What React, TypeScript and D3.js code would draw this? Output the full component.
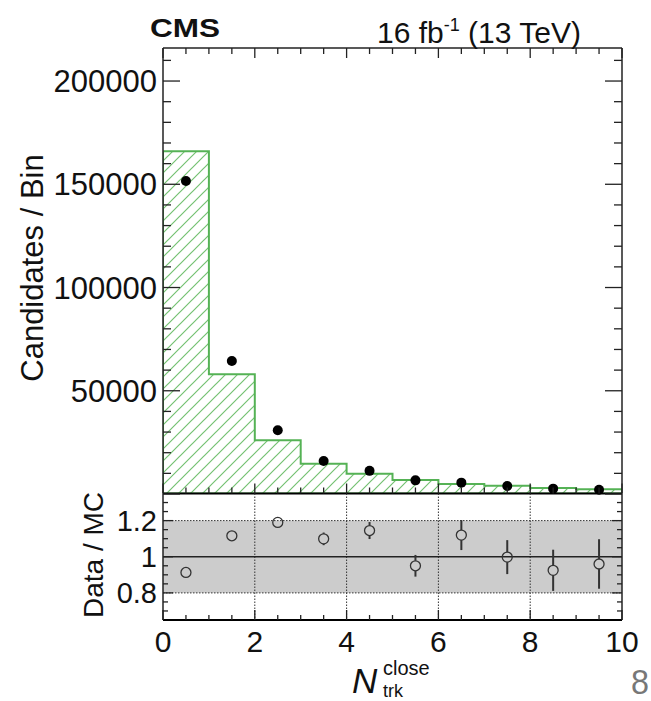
import React from 'react';
import * as d3 from 'd3';

const binLow = [0, 1, 2, 3, 4, 5, 6, 7, 8, 9];
const mcCounts = [166000, 58000, 26000, 14700, 9850, 6800, 4850, 4000, 2900, 2300];
const dataCounts = [151600, 64400, 30900, 16000, 11200, 6600, 5500, 3900, 2600, 2100];
const ratioValues = [0.913, 1.116, 1.19, 1.099, 1.145, 0.95, 1.12, 0.998, 0.925, 0.96];
const ratioErrors = [0.005, 0.007, 0.01, 0.035, 0.047, 0.06, 0.083, 0.094, 0.114, 0.137];
const yTickValues = [50000, 100000, 150000, 200000];
const ratioTickValues = [0.8, 1, 1.2];
const ratioTickLabels = ['0.8', '1', '1.2'];
const xTickValues = [0, 2, 4, 6, 8, 10];
const xGridValues = [2, 4, 6, 8];

export default function App() {
  const W = 651, H = 701;
  const left = 163, right = 622, top = 48, mid = 493.5, bot = 620;
  const x = d3.scaleLinear().domain([0, 10]).range([left, right]);
  const y = d3.scaleLinear().domain([0, 216000]).range([494, top]);
  const yr = d3.scaleLinear().domain([0.65, 1.35]).range([bot, mid]);
  const font = "'Liberation Sans', Arial, Helvetica, sans-serif";
  const green = '#55b255';
  const hatchGreen = '#74c172';

  let hist = `M${x(0)},${mid}`;
  mcCounts.forEach((v, i) => {
    hist += ` V${y(v)} H${x(binLow[i] + 1)}`;
  });
  hist += ` V${mid} Z`;

  const yMinor = d3.range(0, 215001, 10000);
  const xMinor = d3.range(0, 10.001, 0.5);
  const rMinor = d3.range(0.7, 1.3001, 0.05);
  const frame = '#222';
  const hs = 12;
  const r = 5;

  return (
    <svg width={W} height={H} style={{ position: 'absolute', left: 0, top: 0, background: '#fff' }} fontFamily={font}>
      <defs>
        <pattern id="hatch" patternUnits="userSpaceOnUse" width={hs} height={hs}>
          <path d={`M0,${hs} L${hs},0 M-2,2 L2,-2 M${hs - 2},${hs + 2} L${hs + 2},${hs - 2}`} stroke={hatchGreen} strokeWidth={1.2} />
        </pattern>
        <clipPath id="topClip">
          <rect x={left} y={top} width={right - left} height={mid - top} />
        </clipPath>
      </defs>
      <rect x={0} y={0} width={W} height={H} fill="#fff" />

      {/* top panel histogram */}
      <g clipPath="url(#topClip)">
        <path d={hist} fill="url(#hatch)" stroke="none" />
        <path d={hist} fill="none" stroke={green} strokeWidth={2} />
      </g>

      {/* data points */}
      {dataCounts.map((v, i) => (
        <circle key={i} cx={x(binLow[i] + 0.5)} cy={y(v)} r={r} fill="#000" />
      ))}

      {/* top panel frame */}
      <line x1={left} x2={left} y1={top} y2={mid} stroke={frame} strokeWidth={1.5} />
      <line x1={right} x2={right} y1={top} y2={mid} stroke={frame} strokeWidth={1.5} />
      <line x1={left} x2={right} y1={top} y2={top} stroke={frame} strokeWidth={1.5} />
      <line x1={left} x2={right} y1={mid} y2={mid} stroke="#000" strokeWidth={2} />

      {/* top panel y ticks */}
      {yMinor.map((v) => {
        const major = v % 50000 === 0;
        const len = major ? 17 : 8;
        return (
          <g key={v}>
            <line x1={left} x2={left + len} y1={y(v)} y2={y(v)} stroke={frame} strokeWidth={1.3} />
            <line x1={right} x2={right - len} y1={y(v)} y2={y(v)} stroke={frame} strokeWidth={1.3} />
          </g>
        );
      })}
      {yTickValues.map((v) => (
        <text key={v} x={157} y={y(v)} dy="0.36em" textAnchor="end" fontSize={31} fill="#111">
          {v}
        </text>
      ))}

      {/* x ticks top panel (top edge and bottom edge) */}
      {xMinor.map((v) => {
        const major = Math.abs(v % 2) < 1e-6;
        const len = major ? 10 : 6;
        return (
          <g key={v}>
            <line x1={x(v)} x2={x(v)} y1={top} y2={top + len} stroke={frame} strokeWidth={1.3} />
            <line x1={x(v)} x2={x(v)} y1={mid} y2={mid - len} stroke={frame} strokeWidth={1.3} />
          </g>
        );
      })}

      {/* ratio panel */}
      <rect x={left} y={yr(1.2)} width={right - left} height={yr(0.8) - yr(1.2)} fill="#cccccc" />
      <line x1={left} x2={right} y1={yr(1.2)} y2={yr(1.2)} stroke="#333" strokeWidth={1} strokeDasharray="1.5,1.5" />
      <line x1={left} x2={right} y1={yr(0.8)} y2={yr(0.8)} stroke="#333" strokeWidth={1} strokeDasharray="1.5,1.5" />
      {xGridValues.map((v) => (
        <line key={v} x1={x(v)} x2={x(v)} y1={mid} y2={bot} stroke="#333" strokeWidth={1} strokeDasharray="1.5,1.5" />
      ))}
      <line x1={left} x2={right} y1={yr(1)} y2={yr(1)} stroke="#222" strokeWidth={1.3} />

      {ratioValues.map((v, i) => {
        const cx = x(binLow[i] + 0.5);
        const cy = yr(v);
        const yHi = yr(v + ratioErrors[i]);
        const yLo = yr(v - ratioErrors[i]);
        return (
          <g key={i}>
            {cy - yHi > r && <line x1={cx} x2={cx} y1={yHi} y2={cy - r} stroke="#333" strokeWidth={2} />}
            {yLo - cy > r && <line x1={cx} x2={cx} y1={cy + r} y2={yLo} stroke="#333" strokeWidth={2} />}
            <circle cx={cx} cy={cy} r={r} fill="none" stroke="#333" strokeWidth={1.3} />
          </g>
        );
      })}

      {/* ratio frame */}
      <line x1={left} x2={left} y1={mid} y2={bot} stroke={frame} strokeWidth={1.5} />
      <line x1={right} x2={right} y1={mid} y2={bot} stroke={frame} strokeWidth={1.5} />
      <line x1={left} x2={right} y1={bot} y2={bot} stroke="#000" strokeWidth={2} />

      {rMinor.map((v) => {
        const major = ratioTickValues.some((t) => Math.abs(t - v) < 1e-6);
        const len = major ? 10 : 5;
        return (
          <g key={v.toFixed(2)}>
            <line x1={left} x2={left + len} y1={yr(v)} y2={yr(v)} stroke={frame} strokeWidth={1.3} />
            <line x1={right} x2={right - len} y1={yr(v)} y2={yr(v)} stroke={frame} strokeWidth={1.3} />
          </g>
        );
      })}
      {ratioTickValues.map((v, i) => (
        <text key={v} x={157} y={yr(v)} dy="0.36em" textAnchor="end" fontSize={29} fill="#111">
          {ratioTickLabels[i]}
        </text>
      ))}
      {xMinor.map((v) => {
        const major = Math.abs(v % 2) < 1e-6;
        const len = major ? 10 : 5;
        return <line key={v} x1={x(v)} x2={x(v)} y1={bot} y2={bot - len} stroke={frame} strokeWidth={1.3} />;
      })}
      {xTickValues.map((v) => (
        <text key={v} x={x(v)} y={652} textAnchor="middle" fontSize={30} fill="#111">
          {v}
        </text>
      ))}

      {/* axis titles */}
      <text transform={`translate(43,268) rotate(-90)`} textAnchor="middle" fontSize={31} fill="#111">
        Candidates / Bin
      </text>
      <text transform={`translate(103,555) rotate(-90)`} textAnchor="middle" fontSize={28} fill="#111">
        Data / MC
      </text>
      <text x={352} y={693} fontSize={35} fontStyle="italic" fill="#111">N</text>
      <text x={383} y={675} fontSize={20} fill="#111">close</text>
      <text x={383} y={697} fontSize={18} fill="#111">trk</text>

      {/* header */}
      <text x={150} y={37} fontSize={26} fontWeight="bold" textLength={70} lengthAdjust="spacingAndGlyphs" fill="#111">
        CMS
      </text>
      <text x={377} y={43} fontSize={30} fill="#111">
        16 fb<tspan fontSize={18} dy={-12}>-1</tspan>
        <tspan dy={12}> (13 TeV)</tspan>
      </text>

      {/* page number */}
      <text x={631} y={694} fontSize={35} textLength={18} lengthAdjust="spacingAndGlyphs" fill="#777">8</text>
    </svg>
  );
}
